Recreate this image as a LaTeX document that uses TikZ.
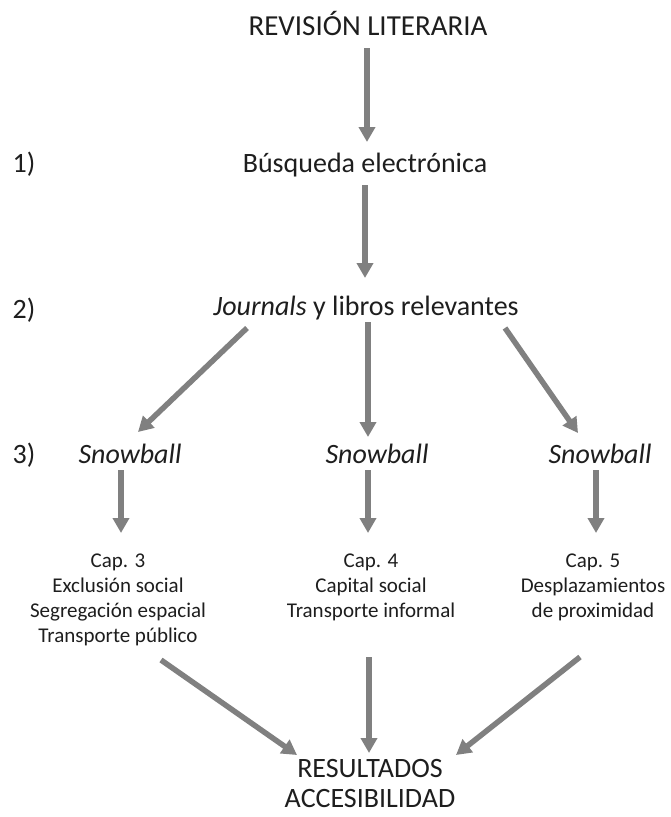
\documentclass[tikz,border=0pt]{standalone}
\usepackage{fontspec}
\setmainfont{Carlito}
\usetikzlibrary{arrows.meta,calc}
\definecolor{arrowgrey}{RGB}{128,128,128}
\definecolor{ink}{RGB}{30,30,30}
\tikzset{
  flow/.style={draw=arrowgrey, line width=5.5pt, -{Triangle[length=15pt,width=16pt]}},
  lbl/.style={inner sep=0pt, anchor=base, text=ink, font=\fontsize{28}{32}\selectfont},
  headline/.style={lbl, font=\fontsize{29}{34}\selectfont},
  chap/.style={inner sep=0pt, anchor=north, align=center, text=ink, font=\fontsize{21}{25}\selectfont},
  result/.style={inner sep=0pt, anchor=north, align=center, text=ink, font=\fontsize{28}{30}\selectfont},
}
\begin{document}
\begin{tikzpicture}[x=1pt,y=-1pt]
\useasboundingbox (0,0) rectangle (670,817);
\fill[white] (0,0) rectangle (670,817);

% stage labels
\node[lbl] (n1) at (24,172) {1)};
\node[lbl] (n2) at (24,318) {2)};
\node[lbl] (n3) at (24,463) {3)};

% main column
\node[headline] (rev) at (368,35) {REVISIÓN LITERARIA};
\node[lbl] (bus) at (365,172) {Búsqueda electrónica};
\node[lbl] (jour) at (366,315) {\textit{Journals} y libros relevantes};

% snowball searches
\node[lbl] (sL) at (130,463) {\textit{Snowball}};
\node[lbl] (sM) at (377,463) {\textit{Snowball}};
\node[lbl] (sR) at (600,463) {\textit{Snowball}};

% chapters
\node[chap] (cL) at (118,554) {Cap. 3\\Exclusión social\\Segregación espacial\\Transporte público};
\node[chap] (cM) at (371,554) {Cap. 4\\Capital social\\Transporte informal};
\node[chap] (cR) at (593,554) {Cap. 5\\Desplazamientos\\de proximidad};

% outcome
\node[result] (res) at (370,759) {RESULTADOS\\ACCESIBILIDAD};

% connectors
\draw[flow] ($(rev.base)+(-1,13)$) -- ($(bus.base)+(2,-30)$);
\draw[flow] ($(bus.base)+(0,13)$) -- ($(jour.base)+(-1,-37)$);
\draw[flow] ($(jour.base)+(-119,13)$) -- ($(sL.base)+(8,-31)$);
\draw[flow] ($(jour.base)+(2,7)$) -- ($(sM.base)+(-9,-26)$);
\draw[flow] ($(jour.base)+(139,13)$) -- ($(sR.base)+(-22,-30)$);
\draw[flow] ($(sL.base)+(-9,7)$) -- ($(cL.north)+(3,-21)$);
\draw[flow] ($(sM.base)+(-9,7)$) -- ($(cM.north)+(-3,-21)$);
\draw[flow] ($(sR.base)+(-4,7)$) -- ($(cR.north)+(3,-21)$);
\draw[flow] ($(cL.north)+(43,106)$) -- ($(res.north)+(-73,-4)$);
\draw[flow] ($(cM.north)+(-2,103)$) -- ($(res.north)+(-1,-6)$);
\draw[flow] ($(cR.north)+(-13,103)$) -- ($(res.north)+(86,-4)$);
\end{tikzpicture}
\end{document}
